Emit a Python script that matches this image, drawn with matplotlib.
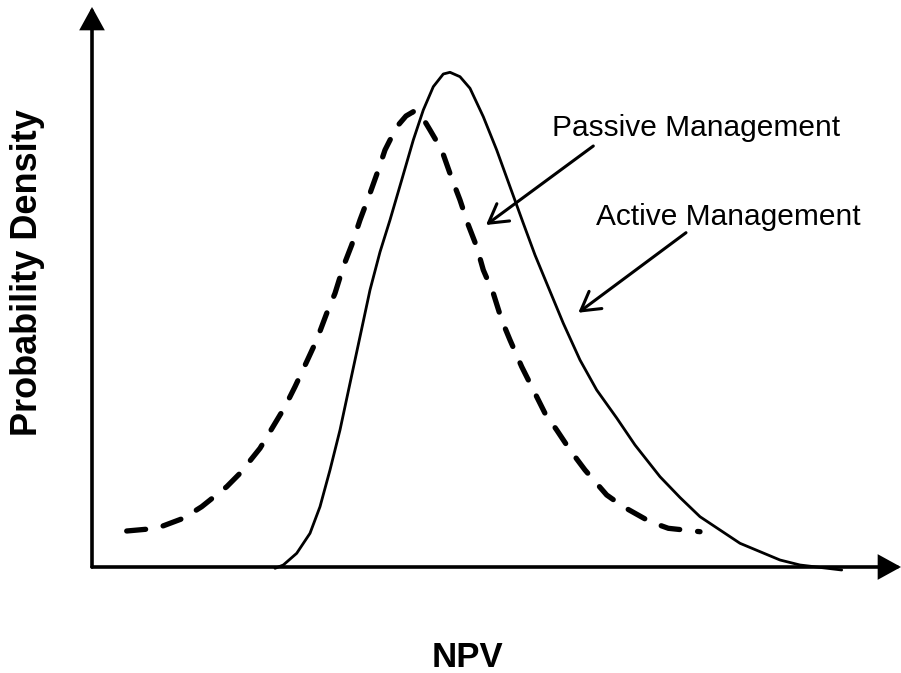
import matplotlib
matplotlib.use("Agg")
import matplotlib.pyplot as plt

plt.rcParams['font.family'] = ['Liberation Sans', 'DejaVu Sans']

# ---- data (NPV units, density units) ----
active_npv = [183, 191.3, 204.7, 218, 228, 238, 248, 258, 268, 278, 288, 298,
              309.7, 321.3, 331.3, 341.3, 351.3, 358, 368, 378, 391.3, 404.7,
              418, 431.3, 443, 454.7, 471.3, 488, 504.7, 524.7, 543, 568, 588,
              608, 648, 688, 708, 749.7]
active_density = [-1.3, 2, 13.7, 33.7, 60.3, 97, 137, 183.7, 230.3, 277, 315, 347,
                  387, 427, 457, 480.3, 493, 494.7, 490.3, 478.7, 450.3, 417,
                  380.3, 343.7, 312, 283.7, 243.7, 207, 177, 149, 122, 90.3, 69.5,
                  50.3, 23.7, 7, 2, -3]

passive_npv = [34.7, 64.7, 91.3, 109.7, 134.7, 148, 168, 178, 193, 203, 214.7,
               224.7, 234.7, 243, 251.3, 259.7, 268, 278, 286.3, 293, 299.7, 306.3,
               314, 321.3, 328, 338, 349.7, 359.7, 368, 376.3, 384.7, 391.3, 401.3,
               409.7, 418, 429.7, 439.7, 453, 464.7, 478, 493, 514.7, 531.3, 558,
               576.3, 608]
passive_density = [36, 38.7, 48.7, 60.3, 80.3, 93.7, 118.7, 135.3, 160.3, 180.3, 205.3,
                   227, 253.7, 273.7, 300.3, 322, 347, 373.7, 397, 417, 430.3, 442,
                   451, 455.3, 453.7, 437, 417, 388.7, 367, 342, 320.3, 297, 273.7,
                   247, 227, 200.3, 180.3, 153.7, 137, 117, 97, 72, 60.3, 45.3,
                   38.7, 35.3]

labels = ["Passive Management", "Active Management"]
x_label = "NPV"
y_label = "Probability Density"

# ---- figure ----
fig = plt.figure(figsize=(9.01, 6.73), dpi=100)
ax = fig.add_axes([0, 0, 1, 1])
ax.set_xlim(-92, 809)
ax.set_ylim(-106, 567)
ax.axis('off')

# axes with arrow heads
axis_kw = dict(arrowstyle='-|>,head_length=0.4,head_width=0.22', mutation_scale=32,
               lw=2.6, color='black', shrinkA=0, shrinkB=0, joinstyle='miter')
ax.annotate('', xy=(0, 560), xytext=(0, 0), arrowprops=axis_kw)
ax.annotate('', xy=(809, 0), xytext=(0, 0), arrowprops=axis_kw)

# curves
ax.plot(active_npv, active_density, color='black', lw=2.0, solid_capstyle='round',
        solid_joinstyle='round')
ax.plot(passive_npv, passive_density, color='black', lw=3.8, linestyle=(0, (3.6, 3.4)),
        dash_capstyle='round', dash_joinstyle='round')

# labels with arrows
arrow_kw = dict(arrowstyle='->,head_length=0.6,head_width=0.35', mutation_scale=22,
                lw=2.2, color='black', shrinkA=0, shrinkB=0)
ax.text(459.7, 431, labels[0], fontsize=21.5, ha='left', va='baseline')
ax.annotate('', xy=(394, 342), xytext=(501.3, 421), arrowprops=arrow_kw)
ax.text(504, 342, labels[1], fontsize=21.5, ha='left', va='baseline')
ax.annotate('', xy=(486.3, 254.3), xytext=(594, 334.3), arrowprops=arrow_kw)

ax.text(375, -99.7, x_label, fontsize=25, fontweight='bold', ha='center', va='baseline')
ax.text(-64.5, 294, y_label, fontsize=26, fontweight='bold', ha='center', va='center',
        rotation=90)

fig.savefig('out.png', dpi=100)
